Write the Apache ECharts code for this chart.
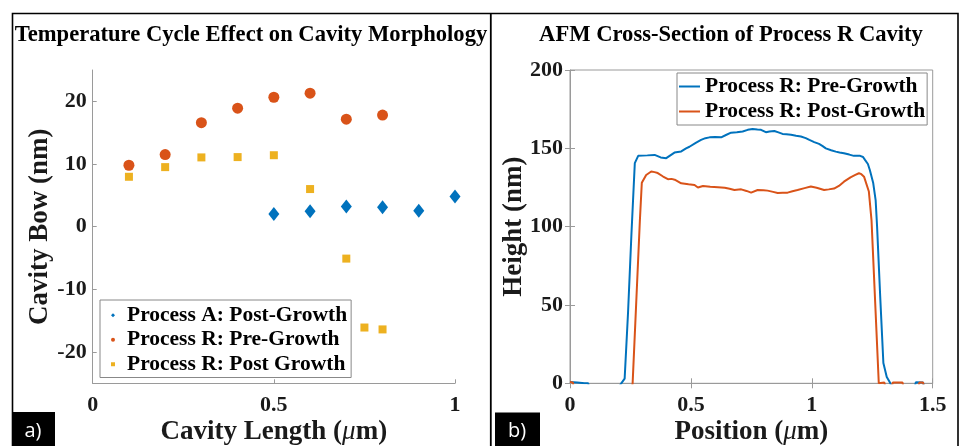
<!DOCTYPE html>
<html><head><meta charset="utf-8">
<script src="https://cdn.jsdelivr.net/npm/echarts@6/dist/echarts.min.js"></script>
<style>html,body{margin:0;padding:0;background:#fff}#c{width:959px;height:446px}</style>
</head><body><div id="c"></div>
<script>
// ---- Panel a) data ----
const procA_x = [0.5, 0.6, 0.7, 0.8, 0.9, 1.0];
const procA_y = [2.0, 2.45, 3.2, 3.1, 2.55, 4.8];
const preR_x = [0.1, 0.2, 0.3, 0.4, 0.5, 0.6, 0.7, 0.8];
const preR_y = [9.8, 11.5, 16.6, 18.9, 20.65, 21.3, 17.15, 17.8];
const postR_x = [0.1, 0.2, 0.3, 0.4, 0.5, 0.6, 0.7, 0.75, 0.8];
const postR_y = [7.96, 9.5, 11.05, 11.1, 11.4, 6.0, -5.1, -16.1, -16.4];
const leftYTicks = [-20, -10, 0, 10, 20];
const leftXTicks = [0, 0.5, 1];

// ---- Panel b) data (AFM profile) ----
const afmPre_x = [0,0.03,0.06,0.075,0.08,0.2,0.212,0.226,0.24,0.254,0.268,0.282,0.32,0.35,0.375,0.398,0.415,0.432,0.46,0.48,0.494,0.52,0.542,0.56,0.577,0.6,0.625,0.645,0.666,0.69,0.714,0.735,0.755,0.775,0.79,0.81,0.825,0.845,0.862,0.879,0.895,0.914,0.935,0.955,0.975,0.99,1.01,1.03,1.045,1.058,1.08,1.099,1.115,1.133,1.155,1.174,1.2,1.212,1.22,1.232,1.24,1.254,1.264,1.27,1.283,1.296,1.31,1.325,1.33,1.425,1.43,1.46,1.465];
const afmPre_y = [0.8,0.5,0,0,-3,-3,0,3,45,95,140.5,145.2,145.5,145.8,144.2,143.7,145.5,147.3,148,150,151,153.5,155.4,156.5,157,157.2,157,158.5,160,160.2,160.7,161.8,162.4,162,161.8,160.3,160.8,161.1,160.2,159.2,159,158.6,158,157.5,156.5,155.4,154,152.8,151.4,150,148.8,147.9,147.4,146.9,146,145.2,145.2,144.5,142.6,140,136.2,127.8,117,100,55,13,4,0,-3,-3,0.6,0.5,-3];
const afmPost_x = [0,0.012,0.015,0.256,0.259,0.274,0.289,0.297,0.315,0.336,0.35,0.363,0.385,0.405,0.42,0.433,0.46,0.49,0.515,0.529,0.55,0.58,0.612,0.64,0.66,0.68,0.708,0.73,0.749,0.776,0.8,0.817,0.84,0.859,0.88,0.9,0.92,0.941,0.97,0.996,1.02,1.051,1.07,1.092,1.112,1.133,1.16,1.18,1.195,1.205,1.216,1.236,1.247,1.262,1.277,1.3,1.305,1.33,1.335,1.375,1.38,1.44,1.445,1.46,1.465];
const afmPost_y = [0.8,0.5,-3,-3,0,52,104,128,133,135.2,134.8,134.2,132,130.3,130.5,130,127.7,127,126.6,125,126,125.5,125.2,124.8,124.2,123.4,123.8,122.8,121.7,123.4,123.3,123,122.2,121.5,121.7,121.7,122.6,123.4,124.6,125.6,124.8,123.4,123.8,124.3,126,128.7,131.5,133,134.1,133.5,131.9,122.4,104,52,0,0.5,-3,-3,0.5,0.5,-3,-3,0.5,0.5,-3];

const BLUE = '#0072BD', ORANGE = '#D95319', YELLOW = '#EDB120';
const SERIF = '"Liberation Serif", "Times New Roman", serif';
const AX = '#9a9a9a';
const tickLabel = {fontFamily: SERIF, fontWeight: 'bold', fontSize: 22, color: '#1a1a1a'};
const nameStyle = {fontFamily: SERIF, fontWeight: 'bold', fontSize: 27, color: '#1a1a1a',
  rich: {mu: {fontFamily: SERIF, fontStyle: 'italic', fontWeight: 'normal', fontSize: 27, color: '#1a1a1a'}}};
const zip = (xs, ys) => xs.map((x, i) => [x, ys[i]]);

const chart = echarts.init(document.getElementById('c'), null, {renderer: 'canvas'});
chart.setOption({
  animation: false,
  backgroundColor: '#fff',
  title: [
    {text: 'Temperature Cycle Effect on Cavity Morphology', left: 251, top: 24, textAlign: 'center',
     textStyle: {fontFamily: SERIF, fontWeight: 'bold', fontSize: 22.6, color: '#000'}, padding: 0},
    {text: 'AFM Cross-Section of Process R Cavity', left: 731, top: 24, textAlign: 'center',
     textStyle: {fontFamily: SERIF, fontWeight: 'bold', fontSize: 22.6, color: '#000'}, padding: 0}
  ],
  grid: [
    {left: 92.7, right: 504, top: 70, bottom: 62.7, containLabel: false, outerBoundsMode: 'none'},
    {left: 570, right: 26.3, top: 70, bottom: 62.7, containLabel: false, outerBoundsMode: 'none',
     show: true, borderColor: AX, borderWidth: 1}
  ],
  legend: [
    {left: 100, top: 300, orient: 'vertical', padding: [3, 4, 1, 11], itemGap: 0,
     itemWidth: 4, itemHeight: 4, backgroundColor: '#fff', borderColor: '#888', borderWidth: 1,
     textStyle: {fontFamily: SERIF, fontWeight: 'bold', fontSize: 21.5, color: '#000', lineHeight: 24.5, padding: [0, 0, 0, 7]},
     data: ['Process A: Post-Growth', 'Process R: Pre-Growth', 'Process R: Post Growth']},
    {left: 677, top: 73, orient: 'vertical', padding: [1, 2, 1, 2], itemGap: 0,
     itemWidth: 21, itemHeight: 2, icon: 'rect', backgroundColor: '#fff', borderColor: '#888', borderWidth: 1,
     textStyle: {fontFamily: SERIF, fontWeight: 'bold', fontSize: 21.5, color: '#000', lineHeight: 25},
     formatter: n => n.replace(/^b:/, ''),
     data: ['b:Process R: Pre-Growth', 'b:Process R: Post-Growth']}
  ],
  xAxis: [
    {gridIndex: 0, type: 'value', min: 0, max: 1, interval: 0.5,
     axisLine: {show: true, onZero: false, lineStyle: {color: AX}},
     axisTick: {show: true, inside: true, length: 4, lineStyle: {color: AX}, customValues: leftXTicks},
     axisLabel: Object.assign({margin: 11, customValues: leftXTicks}, tickLabel),
     splitLine: {show: false},
     name: 'Cavity Length ({mu|\u03bc}m)', nameLocation: 'middle', nameGap: 35, nameMoveOverlap: false, nameTextStyle: nameStyle},
    {gridIndex: 1, type: 'value', min: 0, max: 1.5, interval: 0.5,
     axisLine: {show: true, onZero: false, lineStyle: {color: AX}},
     axisTick: {show: true, inside: true, length: 5, lineStyle: {color: AX}},
     axisLabel: Object.assign({margin: 11}, tickLabel),
     splitLine: {show: false},
     name: 'Position ({mu|\u03bc}m)', nameLocation: 'middle', nameGap: 35, nameMoveOverlap: false, nameTextStyle: nameStyle},
    {gridIndex: 1, type: 'value', position: 'top', min: 0, max: 1.5, interval: 0.5,
     axisLine: {show: false}, axisTick: {show: true, inside: true, length: 5, lineStyle: {color: AX}},
     axisLabel: {show: false}, splitLine: {show: false}}
  ],
  yAxis: [
    {gridIndex: 0, type: 'value', min: -25, max: 25,
     axisLine: {show: true, onZero: false, lineStyle: {color: AX}},
     axisTick: {show: true, inside: true, length: 4, lineStyle: {color: AX}, customValues: leftYTicks},
     axisLabel: Object.assign({margin: 6, customValues: leftYTicks}, tickLabel),
     splitLine: {show: false},
     name: 'Cavity Bow (nm)', nameLocation: 'middle', nameGap: 39, nameMoveOverlap: false, nameTextStyle: nameStyle},
    {gridIndex: 1, type: 'value', min: 0, max: 200, interval: 50,
     axisLine: {show: true, onZero: false, lineStyle: {color: AX}},
     axisTick: {show: true, inside: true, length: 5, lineStyle: {color: AX}},
     axisLabel: Object.assign({margin: 7}, tickLabel),
     splitLine: {show: false},
     name: 'Height (nm)', nameLocation: 'middle', nameGap: 42, nameMoveOverlap: false, nameTextStyle: nameStyle},
    {gridIndex: 1, type: 'value', position: 'right', min: 0, max: 200, interval: 50,
     axisLine: {show: false}, axisTick: {show: true, inside: true, length: 5, lineStyle: {color: AX}},
     axisLabel: {show: false}, splitLine: {show: false}}
  ],
  series: [
    {name: 'Process A: Post-Growth', type: 'scatter', xAxisIndex: 0, yAxisIndex: 0,
     symbol: 'diamond', symbolSize: [11, 14], itemStyle: {color: BLUE, opacity: 1}, data: zip(procA_x, procA_y)},
    {name: 'Process R: Pre-Growth', type: 'scatter', xAxisIndex: 0, yAxisIndex: 0,
     symbol: 'circle', symbolSize: 11, itemStyle: {color: ORANGE, opacity: 1}, data: zip(preR_x, preR_y)},
    {name: 'Process R: Post Growth', type: 'scatter', xAxisIndex: 0, yAxisIndex: 0,
     symbol: 'rect', symbolSize: 8, itemStyle: {color: YELLOW, opacity: 1}, data: zip(postR_x, postR_y)},
    {name: 'b:Process R: Pre-Growth', type: 'line', xAxisIndex: 1, yAxisIndex: 1, clip: true,
     showSymbol: false, symbol: 'none', lineStyle: {color: BLUE, width: 2}, itemStyle: {color: BLUE},
     data: zip(afmPre_x, afmPre_y)},
    {name: 'b:Process R: Post-Growth', type: 'line', xAxisIndex: 1, yAxisIndex: 1, clip: true,
     showSymbol: false, symbol: 'none', lineStyle: {color: ORANGE, width: 2}, itemStyle: {color: ORANGE},
     data: zip(afmPost_x, afmPost_y)}
  ],
  graphic: [
    {type: 'rect', shape: {x: 12.5, y: 13.5, width: 945.5, height: 440}, style: {fill: null, stroke: '#000', lineWidth: 1.6}, z: 100},
    {type: 'line', shape: {x1: 490.8, y1: 13, x2: 490.8, y2: 446}, style: {stroke: '#000', lineWidth: 1.8}, z: 100},
    {type: 'rect', shape: {x: 12, y: 412, width: 43, height: 34}, style: {fill: '#000'}, z: 100},
    {type: 'text', x: 33, y: 431, style: {text: 'a)', fill: '#fff', font: '20px "Open Sans", sans-serif', align: 'center', verticalAlign: 'middle'}, z: 101},
    {type: 'rect', shape: {x: 495, y: 412.5, width: 45, height: 34}, style: {fill: '#000'}, z: 100},
    {type: 'text', x: 517, y: 431, style: {text: 'b)', fill: '#fff', font: '20px "Open Sans", sans-serif', align: 'center', verticalAlign: 'middle'}, z: 101}
  ]
});
</script></body></html>
